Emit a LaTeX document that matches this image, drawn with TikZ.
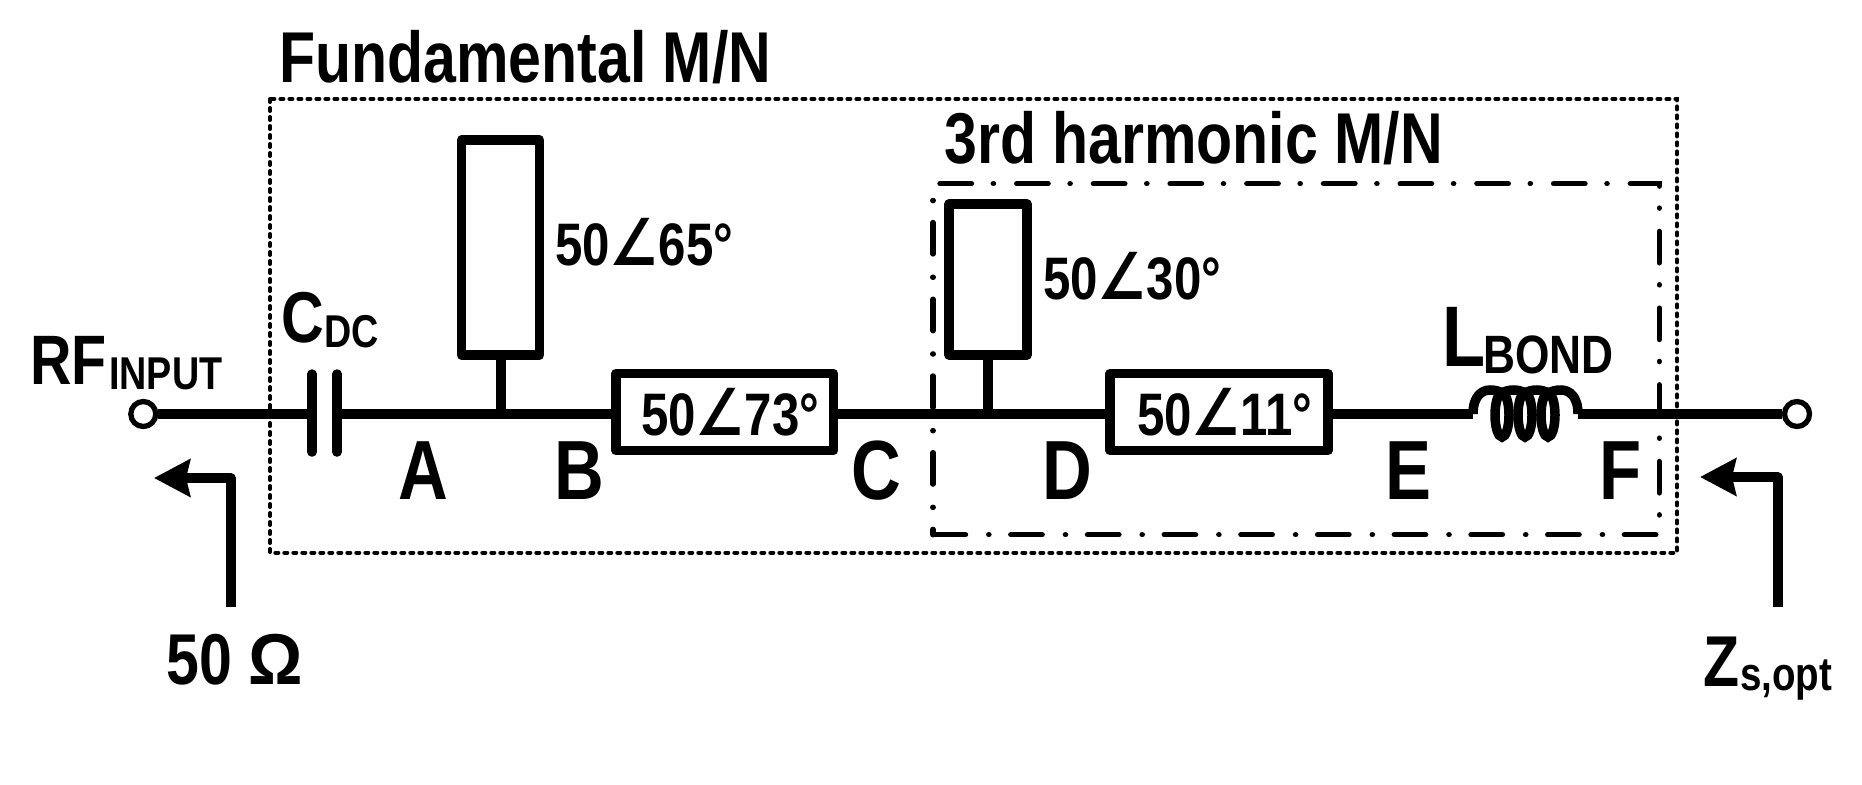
\documentclass[tikz,border=0pt]{standalone}
\usepackage{fontspec}
\setmainfont[FakeStretch=0.82]{Liberation Sans}
\newfontfamily\anglefont[FakeStretch=0.84,Scale=1.08]{DejaVu Sans}
\usetikzlibrary{arrows.meta}
\newcommand{\sz}[1]{\fontsize{#1}{#1}\selectfont}
\newcommand{\angsym}{{\anglefont ∠}}
\tikzset{
  wire/.style={black, line width=10pt},
  plate/.style={black, line width=9.5pt, line cap=round},
  coil/.style={black, line width=9.5pt},
  tline/.style={draw=black, line width=9.5pt, fill=white, line join=round, inner sep=0pt, minimum width=#1},
  port/.style={circle, draw=black, line width=5.3pt, fill=white, inner sep=0pt, minimum size=25pt},
  lbl/.style={anchor=base west, inner sep=0pt, font=\bfseries\sz{#1}},
  ptr/.style={black, line width=9.4pt, line join=round, -{Stealth[length=36pt,width=37pt,inset=4pt]}}
}
\begin{document}
\begin{tikzpicture}[x=1pt,y=-1pt]
\useasboundingbox (0,0) rectangle (1862,784);
% matching network outlines
\draw[black, line width=4pt, line cap=round, dash pattern=on 3pt off 6pt] (270,99) rectangle (1677,552.7);
\coordinate (harmTS) at (940.05,183.7);
\coordinate (harmTR) at (1659.3,183.7);
\coordinate (harmBR) at (1659.3,534.7);
\coordinate (harmBL) at (933,534.7);
\coordinate (harmLE) at (933,190);
\draw[black, line width=5.5pt, line cap=round, dash pattern=on 31.3pt off 22pt on 0.1pt off 23.3pt] (harmTS) -- (harmTR) -- (harmBR) -- (harmBL);
\draw[black, line width=5.5pt, line cap=round, dash pattern=on 31.3pt off 22pt on 0.1pt off 23.3pt, dash phase=26pt] (harmBL) -- (harmLE);
% line elements
\node[port] (portin) at (143.3,414) {};
\node[port] (portout) at (1797,414) {};
\coordinate (capL) at (312,414);
\coordinate (capR) at (337,414);
\coordinate (teeA) at (500.5,414);
\coordinate (teeB) at (988,414);
\coordinate (coilL) at (1473,414);
\coordinate (coilR) at (1578,414);
\node[tline=78pt, minimum height=215pt] (stubA) at (500.5,247.5) {};
\node[tline=78pt, minimum height=151pt] (stubB) at (988,279.5) {};
\node[tline=217.5pt, minimum height=77pt] (lineA) at (724.7,412) {};
\node[tline=218pt, minimum height=77pt] (lineB) at (1219,412) {};
\draw[wire] (portin) -- (capL);
\draw[wire] (capR) -- (lineA.west |- capR);
\draw[wire] (lineA.east |- capR) -- (lineB.west |- capR);
\draw[wire] (lineB.east |- capR) -- (coilL);
\draw[wire] (coilR) -- (portout);
\draw[wire] (teeA) -- (stubA.south);
\draw[wire] (teeB) -- (stubB.south);
% capacitor
\draw[plate] (312,374) -- (312,452);
\draw[plate] (337,374) -- (337,452);
% bond wire coil
\draw[coil] (coilL) .. controls (1473,396) and (1482,390) .. (1490,390) .. controls (1495,390) and (1499,391) .. (1502,393) .. controls (1508,389) and (1519,389) .. (1525,393) .. controls (1531,389) and (1542,389) .. (1548,393) .. controls (1552,391) and (1556,390) .. (1561,390) .. controls (1569,390) and (1578,396) .. (coilR);
\draw[coil] (1502,415) ellipse (7 and 22);
\draw[coil] (1525,415) ellipse (7 and 22);
\draw[coil] (1548,415) ellipse (7 and 22);
% look-in arrows
\coordinate (srcfoot) at (231,607);
\coordinate (srctip) at (154,478);
\coordinate (optfoot) at (1778,607);
\coordinate (opttip) at (1700,477);
\draw[ptr] (srcfoot) |- (srctip);
\draw[ptr] (optfoot) |- (opttip);
% labels
\node[lbl=72] (fundlab) at (279,82.5) {Fundamental M/N};
\node[lbl=72] (harmlab) at (944,163.5) {3rd harmonic M/N};
\node[lbl=60] (stubAlab) at (555,265) {50\angsym65°};
\node[lbl=60] (stubBlab) at (1043,299) {50\angsym30°};
\node[lbl=60] (lineAlab) at (641,435) {50\angsym73°};
\node[lbl=60] (lineBlab) at (1137,435) {50\angsym11°};
\node[lbl=70] (rflab) at (30,384) {RF};
\node[lbl=46] (inputlab) at (109,389) {INPUT};
\node[lbl=72] (caplab) at (281,342.5) {C};
\node[lbl=46] (dclab) at (324,347.5) {DC};
\node[lbl=86] (bondlab) at (1442,366) {L};
\node[lbl=54] (bondsub) at (1483,373) {BOND};
\node[lbl=84, anchor=base] (ptA) at (423,499) {A};
\node[lbl=84, anchor=base] (ptB) at (579,499) {B};
\node[lbl=84, anchor=base] (ptC) at (876.5,499) {C};
\node[lbl=84, anchor=base] (ptD) at (1067,499) {D};
\node[lbl=84, anchor=base] (ptE) at (1408,499) {E};
\node[lbl=84, anchor=base] (ptF) at (1621,499) {F};
\node[lbl=72] (ohmlab) at (166,684) {50 \scalebox{1.15}[1]{Ω}};
\node[lbl=72] (zlab) at (1703,686) {Z};
\node[lbl=47] (zsub) at (1740,690) {s,opt};
\end{tikzpicture}
\end{document}
